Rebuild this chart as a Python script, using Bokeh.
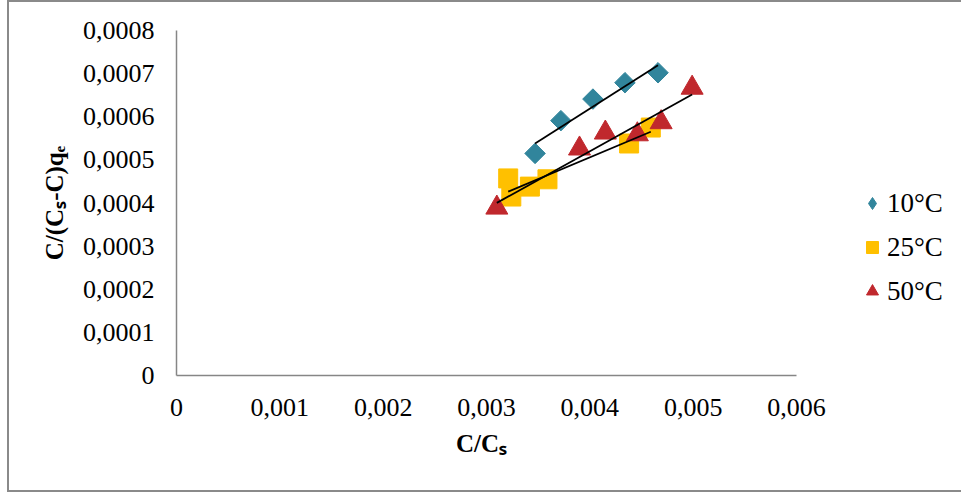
import numpy as np
from bokeh.plotting import figure
from bokeh.layouts import column
from bokeh.models import Range1d, FixedTicker, Legend, LegendItem
from bokeh.embed import file_html
from bokeh.resources import INLINE

# Isotherm linearisation data: C/Cs against C/((Cs-C) qe)
x_10 = [0.00347, 0.00372, 0.00403, 0.00434, 0.00466]
y_10 = [0.000515, 0.000591, 0.000641, 0.000679, 0.000702]

x_25 = [0.00321, 0.00324, 0.00342, 0.00359, 0.00438, 0.00459]
y_25 = [0.000457, 0.000415, 0.000438, 0.000455, 0.000538, 0.000575]

x_50 = [0.00310, 0.00390, 0.00415, 0.00446, 0.00469, 0.00499]
y_50 = [0.000389, 0.000526, 0.000563, 0.000559, 0.000587, 0.000667]

series_names = ["10°C", "25°C", "50°C"]

x_ticks = [0.0, 0.001, 0.002, 0.003, 0.004, 0.005, 0.006]
x_tick_labels = ["0", "0,001", "0,002", "0,003", "0,004", "0,005", "0,006"]
y_ticks = [0.0, 0.0001, 0.0002, 0.0003, 0.0004, 0.0005, 0.0006, 0.0007, 0.0008]
y_tick_labels = ["0", "0,0001", "0,0002", "0,0003", "0,0004", "0,0005",
                 "0,0006", "0,0007", "0,0008"]

x_title = "C/Cₛ"
y_title = "C/(Cₛ-C)qₑ"

FONT = "Liberation Serif"
AXIS_GREY = "#868686"
BORDER = "2px solid #8a8a8a"

# the canvas sits inside a thin grey border (left/top/bottom)
OX, OY = 9, 2
W, H = 961 - OX, 492 - OY - 2
LEFT, TOP, FRAME_H = 176 - OX, 30 - OY, 345
AXIS_W = 620                        # pixel length of the 0 .. 0.006 axis
FRAME_W = W - LEFT                  # frame runs to the right edge (room for legend)
x_end = x_ticks[-1] * FRAME_W / AXIS_W

# the x title is centred on the whole frame; trailing em spaces (1 em = 25 px)
# pull it back over the centre of the drawn 0 .. 0.006 axis
pad_em = round((FRAME_W - AXIS_W) / 25)

p = figure(width=W, height=H, output_backend="svg", toolbar_location=None,
           x_range=Range1d(0, x_end), y_range=Range1d(0, y_ticks[-1]),
           min_border_left=LEFT, min_border_right=0,
           min_border_top=TOP, min_border_bottom=H - TOP - FRAME_H)
p.outline_line_color = None
p.grid.visible = False
p.background_fill_color = "white"
p.border_fill_color = "white"

p.xaxis.ticker = FixedTicker(ticks=x_ticks)
p.xaxis.major_label_overrides = dict(zip(x_ticks, x_tick_labels))
p.xaxis.bounds = (x_ticks[0], x_ticks[-1])
p.yaxis.ticker = FixedTicker(ticks=y_ticks)
p.yaxis.major_label_overrides = dict(zip(y_ticks, y_tick_labels))
p.xaxis.axis_label = x_title + "\u2003" * pad_em
p.yaxis.axis_label = y_title
for ax in (p.xaxis[0], p.yaxis[0]):
    ax.axis_line_color = AXIS_GREY
    ax.axis_line_width = 1.5
    ax.major_tick_line_color = None
    ax.minor_tick_line_color = None
    ax.major_tick_in = 0
    ax.major_tick_out = 0
    ax.minor_tick_in = 0
    ax.minor_tick_out = 0
    ax.major_label_text_font = FONT
    ax.major_label_text_font_size = "26px"
    ax.major_label_text_color = "black"
    ax.axis_label_text_font = FONT
    ax.axis_label_text_font_style = "bold"
    ax.axis_label_text_font_size = "25px"
    ax.axis_label_text_color = "black"
p.xaxis.major_label_standoff = 23
p.yaxis.major_label_standoff = 22
p.xaxis.axis_label_standoff = 11
p.yaxis.axis_label_standoff = 12

colors = ["#31859C", "#FFC000", "#C0282D"]
r10 = p.scatter(x_10, y_10, marker="square", angle=np.pi / 4, size=14.5,
                fill_color=colors[0], line_color=colors[0])
r25 = p.scatter(x_25, y_25, marker="square", size=19,
                fill_color=colors[1], line_color=colors[1])
r50 = p.scatter(x_50, y_50, marker="triangle", size=22,
                fill_color=colors[2], line_color=colors[2])
# key glyph for the diamonds (legend swatches ignore marker rotation)
k10 = p.scatter([np.nan], [np.nan], marker="diamond",
                fill_color=colors[0], line_color=colors[0])

# Linear trend lines over each series' own x span
for xs, ys in ((x_10, y_10), (x_25, y_25), (x_50, y_50)):
    k, b = np.polyfit(xs, ys, 1)
    xe = np.array([min(xs), max(xs)])
    p.line(xe, k * xe + b, line_color="black", line_width=1.8)

legend = Legend(items=[LegendItem(label=n, renderers=[r]) for n, r in
                       zip(series_names, (k10, r25, r50))],
                location=(681, 66), orientation="vertical",
                glyph_width=30, glyph_height=36, label_height=36,
                label_standoff=0, spacing=8, padding=0, margin=0,
                border_line_color=None, background_fill_alpha=0,
                label_text_font=FONT, label_text_font_size="27px",
                label_text_color="black")
p.add_layout(legend)

page = column(p, styles={"border-left": BORDER, "border-top": BORDER,
                         "border-bottom": BORDER, "margin-left": "7px"})

open("out.html", "w").write(file_html(page, INLINE))
